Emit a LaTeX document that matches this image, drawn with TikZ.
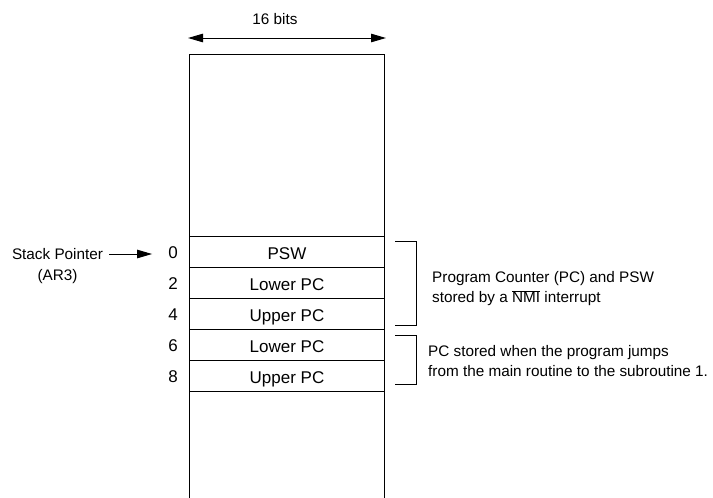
\documentclass[tikz,border=0pt]{standalone}
\usepackage{fontspec}
\setmainfont{Liberation Sans}
\usetikzlibrary{arrows.meta}
\begin{document}
\begin{tikzpicture}[x=1pt,y=-1pt,
  every node/.style={font=\fontsize{15.3}{20}\selectfont, inner sep=0pt},
  big/.style={font=\fontsize{17}{20}\selectfont},
  line/.style={line width=1pt},
  cell/.style={draw, line width=1pt, big, minimum width=195pt, minimum height=31pt,
    text height=15.2pt, text depth=0pt, anchor=north west},
  tip/.tip={Triangle[length=15pt,width=8.5pt]},
  tri/.style={-tip, line width=1pt}]
\useasboundingbox (0,0) rectangle (713,498);
% memory block
\coordinate (tl) at (189,54); \coordinate (tr) at (384,54);
\coordinate (bl) at (189,498); \coordinate (br) at (384,498);
\draw[line] (bl) -- (tl) -- (tr) -- (br);
\node[cell] (c0) at (189,236) {PSW};
\node[cell] (c2) at (189,267) {Lower PC};
\node[cell] (c4) at (189,298) {Upper PC};
\node[cell] (c6) at (189,329) {Lower PC};
\node[cell] (c8) at (189,360) {Upper PC};
% width arrow
\node (bits) at (275,19) {16 bits};
\coordinate (al) at (188,38); \coordinate (ar) at (386,38);
\draw[tip-tip, line width=1pt] (al) -- (ar);
% addresses
\node[big] (n0) at (173,253) {0};
\node[big] (n2) at (173,284) {2};
\node[big] (n4) at (173,315) {4};
\node[big] (n6) at (173,346) {6};
\node[big] (n8) at (173,377) {8};
% stack pointer
\node (sp) at (57.5,254) {Stack Pointer};
\node (ar3) at (57.5,277) {(AR3)};
\draw[tri] ([xshift=6pt]sp.east) -- ([xshift=-16pt]n0.west |- sp.east);
% brackets
\coordinate (b1a) at (395,241); \coordinate (b1b) at (416,241);
\coordinate (b1c) at (416,325); \coordinate (b1d) at (395,325);
\draw[line] (b1a) -- (b1b) -- (b1c) -- (b1d);
\coordinate (b2a) at (395,335); \coordinate (b2b) at (416,335);
\coordinate (b2c) at (416,384); \coordinate (b2d) at (395,384);
\draw[line] (b2a) -- (b2b) -- (b2c) -- (b2d);
% notes
\node[anchor=west, align=left] (t1) at (432,289) {Program Counter (PC) and PSW\\stored by a $\overline{\mbox{NMI}}$ interrupt};
\node[anchor=west, align=left] (t2) at (428,361) {PC stored when the program jumps\\from the main routine to the subroutine 1.};
\end{tikzpicture}
\end{document}
